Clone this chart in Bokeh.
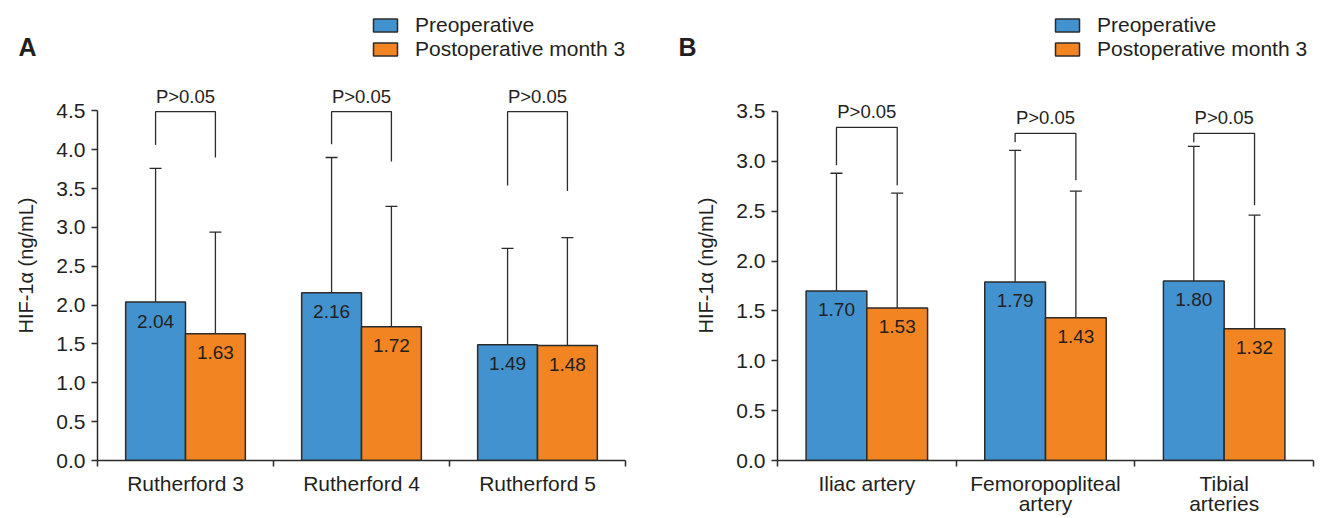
import numpy as np
from bokeh.plotting import figure
from bokeh.models import (ColumnDataSource, Range1d, FixedTicker, PrintfTickFormatter,
                          Whisker, TeeHead, Legend, LegendItem, Label)
from bokeh.layouts import row, column
from bokeh.embed import file_html
from bokeh.resources import INLINE
from bokeh.core.properties import value

FONT = "Liberation Sans"
BLUE = "#4292D0"
ORANGE = "#F28422"
EDGE = "#2b2b2b"
TXT = "#231f20"

series = ["Preoperative", "Postoperative month 3"]

# Panel A
cats_a = ["Rutherford 3", "Rutherford 4", "Rutherford 5"]
pre_a = [2.04, 2.16, 1.49]
post_a = [1.63, 1.72, 1.48]
pre_err_a = [3.76, 3.90, 2.73]
post_err_a = [2.94, 3.27, 2.87]
brk_top_a = [4.49, 4.49, 4.49]
brk_left_a = [4.06, 4.07, 3.54]
brk_right_a = [3.90, 3.85, 3.47]
ptext_a = ["P>0.05", "P>0.05", "P>0.05"]
yticks_a = [0.0, 0.5, 1.0, 1.5, 2.0, 2.5, 3.0, 3.5, 4.0, 4.5]

# Panel B
cats_b = ["Iliac artery", "Femoropopliteal\nartery", "Tibial\narteries"]
pre_b = [1.70, 1.79, 1.80]
post_b = [1.53, 1.43, 1.32]
pre_err_b = [2.88, 3.11, 3.15]
post_err_b = [2.68, 2.70, 2.46]
brk_top_b = [3.34, 3.28, 3.28]
brk_left_b = [2.96, 3.19, 3.19]
brk_right_b = [2.76, 2.81, 2.56]
ptext_b = ["P>0.05", "P>0.05", "P>0.05"]
yticks_b = [0.0, 0.5, 1.0, 1.5, 2.0, 2.5, 3.0, 3.5]

HEADER_H = 70
MAIN_H = 448
BOTTOM = 57


def make_header(letter, legend_x):
    # header strip: panel letter + legend swatches (legend-only renderers hold no drawable point)
    h = figure(width=660, height=HEADER_H, x_range=Range1d(0, 660),
               y_range=Range1d(0, HEADER_H),
               output_backend="svg", toolbar_location=None,
               x_axis_location=None, y_axis_location=None, min_border=0)
    h.outline_line_color = None
    h.xgrid.visible = False
    h.ygrid.visible = False
    r1 = h.vbar(x="x", top="top", width=1, source=ColumnDataSource(dict(x=[np.nan], top=[np.nan])),
                fill_color=BLUE, line_color=EDGE, line_width=1.5)
    r2 = h.vbar(x="x", top="top", width=1, source=ColumnDataSource(dict(x=[np.nan], top=[np.nan])),
                fill_color=ORANGE, line_color=EDGE, line_width=1.5)
    legend = Legend(items=[LegendItem(label=series[0], renderers=[r1]),
                           LegendItem(label=series[1], renderers=[r2])],
                    location=(legend_x, HEADER_H - 61),
                    orientation="vertical", glyph_width=30, glyph_height=16,
                    label_standoff=15, spacing=0, padding=0, margin=0,
                    border_line_alpha=0, background_fill_alpha=0,
                    label_text_font=FONT, label_text_font_size="21px",
                    label_text_color=TXT)
    h.add_layout(legend)
    h.add_layout(Label(x=18, y=HEADER_H - 46, x_units="screen", y_units="screen",
                       text=letter, text_font=FONT, text_font_style="bold",
                       text_font_size="25px", text_baseline="middle",
                       text_color=TXT))
    return h


def make_panel(cats, pre, post, pre_err, post_err, btop, bleft, bright, ptext,
               yticks, px_per_unit, border_left, border_right):
    n = len(cats)
    idx = np.arange(n) + 0.5
    x_pre = idx - 0.17
    x_post = idx + 0.17
    frame_h = MAIN_H - BOTTOM
    y_end = frame_h / px_per_unit

    p = figure(width=660, height=MAIN_H, x_range=Range1d(0, n), y_range=Range1d(0, y_end),
               output_backend="svg", toolbar_location=None,
               min_border_left=border_left, min_border_right=border_right,
               min_border_top=0, min_border_bottom=BOTTOM)
    p.outline_line_color = None
    p.xgrid.visible = False
    p.ygrid.visible = False

    src_pre = ColumnDataSource(dict(x=x_pre, top=pre, err=pre_err,
                                    lab=[f"{v:.2f}" for v in pre]))
    src_post = ColumnDataSource(dict(x=x_post, top=post, err=post_err,
                                     lab=[f"{v:.2f}" for v in post]))

    p.vbar(x="x", top="top", width=0.34, source=src_pre,
           fill_color=BLUE, line_color=EDGE, line_width=1.5)
    p.vbar(x="x", top="top", width=0.34, source=src_post,
           fill_color=ORANGE, line_color=EDGE, line_width=1.5)

    for src in (src_pre, src_post):
        w = Whisker(source=src, base="x", lower="top", upper="err", dimension="height",
                    line_color=EDGE, line_width=1.3, lower_head=None,
                    upper_head=TeeHead(size=12, line_color=EDGE, line_width=1.3))
        p.add_layout(w)
        p.text(x="x", y="top", text="lab", source=src, text_align="center",
               text_baseline="middle", y_offset=19, text_font_size="19px",
               text_font=value(FONT), text_color=TXT)

    xs = [[a, a, b, b] for a, b in zip(x_pre, x_post)]
    ys = [[l, t, t, r] for l, t, r in zip(bleft, btop, bright)]
    p.multi_line(xs=xs, ys=ys, line_color=EDGE, line_width=1.3)
    p.text(x=idx, y=btop, text=ptext, text_align="center", text_baseline="bottom",
           y_offset=-5, text_font_size="18.5px", text_font=value(FONT), text_color=TXT)

    yax = p.yaxis[0]
    yax.bounds = (yticks[0], yticks[-1])
    yax.ticker = FixedTicker(ticks=yticks, minor_ticks=[])
    yax.formatter = PrintfTickFormatter(format="%.1f")
    yax.axis_label = "HIF-1\u03b1 (ng/mL)"
    yax.axis_label_text_font = FONT
    yax.axis_label_text_font_size = "20px"
    yax.axis_label_text_font_style = "normal"
    yax.axis_label_text_color = TXT
    yax.axis_label_standoff = 16
    yax.major_label_text_font = FONT
    yax.major_label_text_font_size = "21px"
    yax.major_label_text_color = TXT
    yax.major_label_standoff = 6
    yax.major_tick_out = 6
    yax.major_tick_in = 0
    yax.minor_tick_out = 0
    yax.minor_tick_in = 0

    xax = p.xaxis[0]
    xax.ticker = FixedTicker(ticks=list(idx), minor_ticks=list(range(n + 1)))
    xax.major_label_overrides = {float(v): c for v, c in zip(idx, cats)}
    xax.major_tick_out = 0
    xax.major_tick_in = 0
    xax.minor_tick_out = 6
    xax.minor_tick_in = 0
    xax.major_label_text_font = FONT
    xax.major_label_text_font_size = "21px"
    xax.major_label_text_line_height = 0.9
    xax.major_label_text_color = TXT
    xax.major_label_standoff = 5

    for ax in (xax, yax):
        ax.axis_line_color = EDGE
        ax.axis_line_width = 1.5
        ax.major_tick_line_color = EDGE
        ax.major_tick_line_width = 1.5
        ax.minor_tick_line_color = EDGE
        ax.minor_tick_line_width = 1.5
    return p


pa = make_panel(cats_a, pre_a, post_a, pre_err_a, post_err_a, brk_top_a,
                brk_left_a, brk_right_a, ptext_a, yticks_a, 350.5 / 4.5, 97, 35)
pb = make_panel(cats_b, pre_b, post_b, pre_err_b, post_err_b, brk_top_b,
                brk_left_b, brk_right_b, ptext_b, yticks_b, 350.0 / 3.5, 117, 7)
ha = make_header("A", 370)
hb = make_header("B", 392)

layout = column(row(ha, hb, spacing=0), row(pa, pb, spacing=0), spacing=0)
open("out.html", "w").write(file_html(layout, INLINE))
